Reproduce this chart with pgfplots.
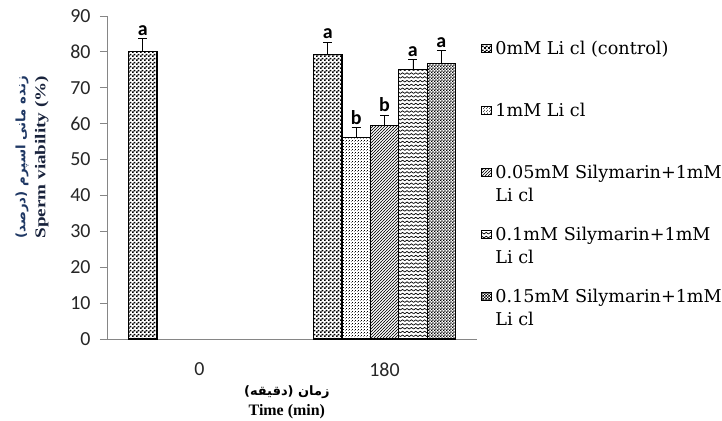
\documentclass[border=0pt]{standalone}
\usepackage{fontspec}
\setmainfont{Carlito}
\newfontfamily\legfont{DejaVu Serif}
\newfontfamily\timesf{Liberation Serif}
\newfontfamily\arabicfont[Script=Arabic]{DejaVu Sans}
\usepackage{pgfplots}
\pgfplotsset{compat=1.18}
\usepackage{pgfplotstable}
\usetikzlibrary{patterns}
\TeXXeTstate=1

\definecolor{axgray}{RGB}{134,134,134}
\definecolor{navyA}{RGB}{31,56,100}
\definecolor{navyB}{RGB}{25,35,60}

\pgfdeclarepatternformonly{confetti}{\pgfpointorigin}{\pgfpoint{4bp}{4bp}}{\pgfpoint{4bp}{4bp}}{%
  \pgfpathrectangle{\pgfpoint{0bp}{0bp}}{\pgfpoint{2.1bp}{2.1bp}}%
  \pgfpathrectangle{\pgfpoint{2bp}{2.1bp}}{\pgfpoint{2.1bp}{1.9bp}}%
  \pgfusepath{fill}}
\pgfdeclarepatternformonly{finedots}{\pgfpointorigin}{\pgfpoint{3bp}{3bp}}{\pgfpoint{3bp}{3bp}}{%
  \pgfpathrectangle{\pgfpoint{0bp}{0bp}}{\pgfpoint{0.9bp}{0.9bp}}%
  \pgfpathrectangle{\pgfpoint{1.5bp}{1.5bp}}{\pgfpoint{0.9bp}{0.9bp}}%
  \pgfusepath{fill}}
\pgfdeclarepatternformonly{nelines}{\pgfpoint{-0.5bp}{-0.5bp}}{\pgfpoint{3.5bp}{3.5bp}}{\pgfpoint{3bp}{3bp}}{%
  \pgfsetlinewidth{0.7bp}%
  \pgfpathmoveto{\pgfpoint{-0.5bp}{-0.5bp}}\pgfpathlineto{\pgfpoint{3.5bp}{3.5bp}}%
  \pgfusepath{stroke}}
\pgfdeclarepatternformonly{waves}{\pgfpoint{-0.5bp}{-0.5bp}}{\pgfpoint{4.5bp}{4bp}}{\pgfpoint{4.4bp}{3.8bp}}{%
  \pgfsetlinewidth{0.7bp}%
  \pgfpathmoveto{\pgfpoint{0bp}{0.8bp}}\pgfpathlineto{\pgfpoint{2.2bp}{2.4bp}}\pgfpathlineto{\pgfpoint{4.4bp}{0.8bp}}%
  \pgfusepath{stroke}}
\pgfdeclarepatternformonly{fchecker}{\pgfpointorigin}{\pgfpoint{2.8bp}{2.8bp}}{\pgfpoint{2.8bp}{2.8bp}}{%
  \pgfpathrectangle{\pgfpointorigin}{\pgfpoint{1.4bp}{1.4bp}}%
  \pgfpathrectangle{\pgfpoint{1.4bp}{1.4bp}}{\pgfpoint{1.4bp}{1.4bp}}%
  \pgfusepath{fill}}

\pgfplotstableread{
x y err lbl
0 80.0 3.8 a
1 79.3 3.3 a
}\ctrl
\pgfplotstableread{
x y err lbl
1 56.1 2.8 b
}\lione
\pgfplotstableread{
x y err lbl
1 59.4 3.0 b
}\sila
\pgfplotstableread{
x y err lbl
1 75.2 2.6 a
}\silb
\pgfplotstableread{
x y err lbl
1 76.7 3.6 a
}\silc

\newcommand{\legtxt}[1]{\raisebox{0pt}[12bp][0pt]{\parbox[t]{240bp}{#1}}}

\pgfplotsset{
  bstyle/.style={draw=black, line width=1.2bp, pattern=#1, pattern color=black,
    nodes near coords, point meta=explicit symbolic,
    every node near coord/.append style={font=\bfseries\fontsize{20}{22}\selectfont, text=black, inner sep=2.5bp},
    error bars/y dir=plus, error bars/y explicit,
    error bars/error bar style={black, line width=0.8bp},
    error bars/error mark options={rotate=90, mark size=4.5bp, black, line width=0.8bp},
    legend image code/.code={\draw[##1, line width=0.7bp] (0bp,2bp) rectangle (9.5bp,10bp);}},
  lshift/.style={every node near coord/.append style={yshift=#1*3.589bp}},
}

\begin{document}
\begin{tikzpicture}
\path[use as bounding box] (0,0) rectangle (722bp,421bp);
\begin{axis}[
  at={(107bp,82bp)}, anchor=south west,
  scale only axis, width=370bp, height=323bp,
  ybar=0pt, bar width=28.4bp,
  xmin=-0.5, xmax=1.5, ymin=0, ymax=90,
  xtick={0,1}, xticklabels={0,180},
  ytick={0,10,...,90},
  axis x line*=bottom, axis y line*=left,
  axis line style={axgray, line width=0.8bp},
  ytick style={axgray, line width=0.8bp}, tick align=outside, major tick length=7bp,
  xtick style={draw=none},
  ticklabel style={font=\fontsize{20}{22}\selectfont, text=black!85},
  /pgf/number format/assume math mode=true,
  xticklabel style={yshift=-13bp},
  yticklabel style={xshift=-6bp},
  clip=false,
  ylabel={{\color{navyA}\arabicfont\bfseries\fontsize{13}{20}\selectfont\scalebox{1.03}[1]{\beginR زنده مانی اسپرم (درصد)\endR}}\\{\color{navyB}\timesf\bfseries\fontsize{15}{20}\selectfont\scalebox{1.28}[1]{Sperm viability (\%)}}},
  ylabel style={align=center, font=\fontsize{14}{20}\selectfont, at={(axis description cs:-0.2027,0.563)}, anchor=center},
  xlabel={{\arabicfont\bfseries\fontsize{13}{20}\selectfont\beginR زمان (دقیقه)\endR}\\{\timesf\bfseries\fontsize{16}{20}\selectfont Time (min)}},
  xlabel style={align=center, font=\fontsize{14}{20}\selectfont, at={(axis description cs:0.486,-0.195)}, anchor=center},
  legend style={at={(1,1)}, anchor=north west, xshift=4bp, yshift=-26bp, draw=none, fill=none,
    inner sep=0pt, row sep=48.5bp, column sep=4bp,
    font=\legfont\fontsize{17.7}{23}\selectfont, cells={anchor=base west}, nodes={inner sep=0pt}},
]
\addplot[bstyle=confetti, lshift=3.55] table[x=x, y=y, y error=err, meta=lbl]{\ctrl};
\addlegendentry{\legtxt{0mM Li cl (control)}}
\addplot[bstyle=finedots, lshift=2.8] table[x=x, y=y, y error=err, meta=lbl]{\lione};
\addlegendentry{\legtxt{1mM Li cl}}
\addplot[bstyle=nelines, lshift=3.0] table[x=x, y=y, y error=err, meta=lbl]{\sila};
\addlegendentry{\legtxt{0.05mM Silymarin+1mM\\Li cl}}
\addplot[bstyle=waves, lshift=2.6] table[x=x, y=y, y error=err, meta=lbl]{\silb};
\addlegendentry{\legtxt{0.1mM Silymarin+1mM\\Li cl}}
\addplot[bstyle=fchecker, lshift=3.6] table[x=x, y=y, y error=err, meta=lbl]{\silc};
\addlegendentry{\legtxt{0.15mM Silymarin+1mM\\Li cl}}
\end{axis}
\end{tikzpicture}
\end{document}
